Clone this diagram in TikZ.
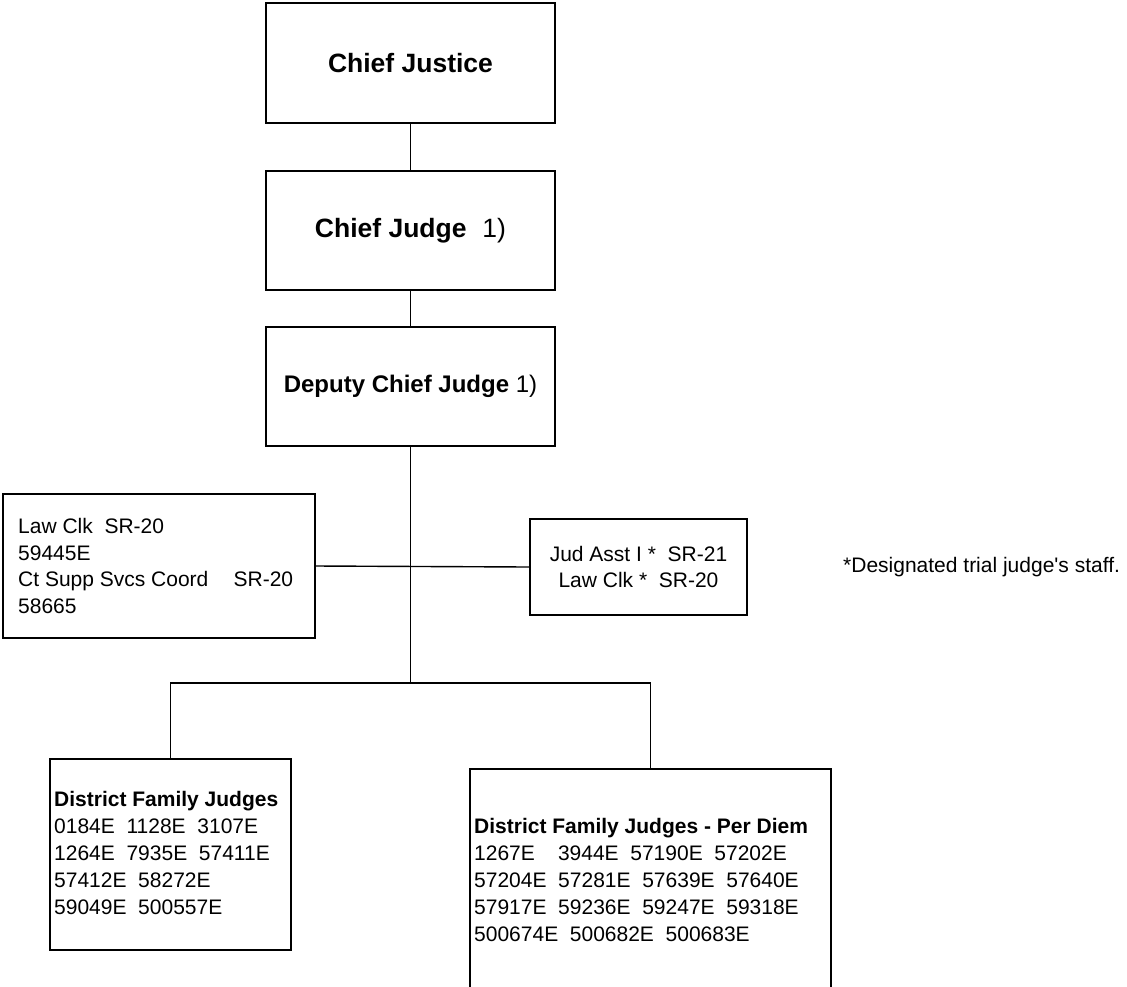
\documentclass[tikz,border=0pt]{standalone}
\usepackage{fontspec}
\setmainfont{Liberation Sans}
\begin{document}
\begin{tikzpicture}[x=1pt,y=-1pt,
  box/.style={draw, line width=1.6pt, inner sep=0pt},
  link/.style={line width=1.4pt},
  txt/.style={inner sep=0pt, align=left, font=\fontsize{21}{26.8}\selectfont}]
\useasboundingbox (0,0) rectangle (1127,986);
\clip (0,0) rectangle (1127,986);
% top chain
\node[box, minimum width=289pt, minimum height=120pt] (cj) at (410.5,63)
  {\fontsize{26.5}{30}\selectfont\bfseries Chief Justice};
\node[box, minimum width=289pt, minimum height=119pt] (chj) at (410.5,230.5)
  {\fontsize{26.5}{30}\selectfont\textbf{Chief Judge}\hspace{0.6em}1)};
\node[box, minimum width=289pt, minimum height=119pt] (dcj) at (410.5,386.5)
  {\fontsize{24}{28}\selectfont\textbf{Deputy Chief Judge} 1)};
% staff boxes
\node[box, minimum width=312pt, minimum height=144pt] (ls) at (159,566) {};
\node[txt, anchor=west] (lst) at (18,566)
  {Law Clk\ \ SR-20\\59445E\\Ct Supp Svcs Coord\hspace{1.2em}SR-20\\58665};
\node[box, minimum width=217pt, minimum height=96pt, align=center,
      font=\fontsize{21}{26.8}\selectfont] (rs) at (638.5,567)
  {Jud Asst I *\ \ SR-21\\Law Clk *\ \ SR-20};
\node[txt, anchor=west] (note) at (843,567) {*Designated trial judge\textquotesingle s staff.};
% bottom boxes
\node[box, minimum width=241pt, minimum height=191pt] (bl) at (170.5,854.5) {};
\node[txt, anchor=west] (blt) at (54,853)
  {\textbf{District Family Judges}\\0184E\ \ 1128E\ \ 3107E\\1264E\ \ 7935E\ \ 57411E\\57412E\ \ 58272E\\59049E\ \ 500557E};
\node[box, minimum width=361pt, minimum height=240pt] (br) at (650.5,889) {};
\node[txt, anchor=west] (brt) at (474,880)
  {\textbf{District Family Judges - Per Diem}\\1267E\hspace{1.1em}3944E\ \ 57190E\ \ 57202E\\57204E\ \ 57281E\ \ 57639E\ \ 57640E\\57917E\ \ 59236E\ \ 59247E\ \ 59318E\\500674E\ \ 500682E\ \ 500683E};
% connectors
\coordinate (j) at (410.5,683);
\draw[link] (cj) -- (chj);
\draw[link] (chj) -- (dcj);
\draw[link] (dcj) -- (j);
\draw[link] (ls.east) -- (rs.west);
\draw[link] (bl.north) |- (j) -| (br.north);
\end{tikzpicture}
\end{document}
